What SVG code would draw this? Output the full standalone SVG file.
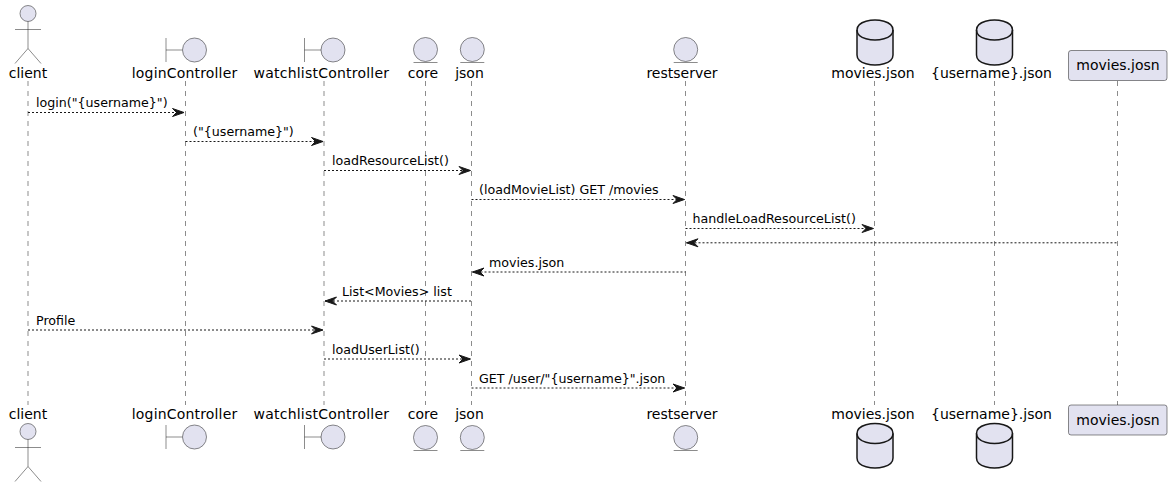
<svg xmlns="http://www.w3.org/2000/svg" width="1172" height="486" viewBox="0 0 1172 486">
  <style>
    .bg { fill: #FFFFFF; }
    .shape { fill: #E2E2F0; stroke: #181818; stroke-width: 0.5; }
    .db { fill: #E2E2F0; stroke: #181818; stroke-width: 1.5; }
    .dbrim { fill: none; stroke: #181818; stroke-width: 1.5; }
    .stick { fill: none; stroke: #181818; stroke-width: 0.5; }
    .life { fill: none; stroke: #181818; stroke-width: 0.5; stroke-dasharray: 5,5; }
    .name { font-family: "DejaVu Sans", "Liberation Sans", sans-serif; font-size: 14px; fill: #000000; text-anchor: middle; }
    .msg { fill: none; stroke: #181818; stroke-width: 1; stroke-dasharray: 2,2; }
    .head { fill: #181818; stroke: #181818; stroke-width: 1; }
    .label { font-family: "DejaVu Sans", "Liberation Sans", sans-serif; font-size: 12.65px; fill: #000000; }
  </style>
  <rect class="bg" x="0" y="0" width="1172" height="486"/>

  <!-- lifelines -->
  <g id="lifelines">
    <line class="life" x1="28" y1="81" x2="28" y2="405"/>
    <line class="life" x1="185.5" y1="81" x2="185.5" y2="405"/>
    <line class="life" x1="324" y1="81" x2="324" y2="405"/>
    <line class="life" x1="425.5" y1="81" x2="425.5" y2="405"/>
    <line class="life" x1="471.5" y1="81" x2="471.5" y2="405"/>
    <line class="life" x1="685.5" y1="81" x2="685.5" y2="405"/>
    <line class="life" x1="874.5" y1="81" x2="874.5" y2="405"/>
    <line class="life" x1="994.5" y1="81" x2="994.5" y2="405"/>
    <line class="life" x1="1117.5" y1="81" x2="1117.5" y2="405"/>
  </g>

  <!-- actor: client -->
  <g id="client">
    <circle class="shape" cx="28" cy="13.5" r="8"/>
    <path class="stick" d="M28,21.5 L28,48.5 M15,29.5 L41,29.5 M28,48.5 L15,63.5 M28,48.5 L41,63.5"/>
    <text class="name" x="28" y="78">client</text>
    <text class="name" x="28" y="419">client</text>
    <circle class="shape" cx="28" cy="431.5" r="8"/>
    <path class="stick" d="M28,439.5 L28,466.5 M15,447.5 L41,447.5 M28,466.5 L15,481.5 M28,466.5 L41,481.5"/>
  </g>

  <!-- boundary: loginController -->
  <g id="loginController">
    <path class="stick" d="M166,38 L166,62 M166,50 L182.5,50"/>
    <circle class="shape" cx="194.5" cy="50" r="12"/>
    <text class="name" x="184.5" y="78" textLength="105.5" lengthAdjust="spacing">loginController</text>
    <text class="name" x="184.5" y="419" textLength="105.5" lengthAdjust="spacing">loginController</text>
    <path class="stick" d="M166,425 L166,449 M166,437 L182.5,437"/>
    <circle class="shape" cx="194.5" cy="437" r="12"/>
  </g>

  <!-- boundary: watchlistController -->
  <g id="watchlistController">
    <path class="stick" d="M304.5,38 L304.5,62 M304.5,50 L321,50"/>
    <circle class="shape" cx="333" cy="50" r="12"/>
    <text class="name" x="321.3" y="78" textLength="135.5" lengthAdjust="spacing">watchlistController</text>
    <text class="name" x="321.3" y="419" textLength="135.5" lengthAdjust="spacing">watchlistController</text>
    <path class="stick" d="M304.5,425 L304.5,449 M304.5,437 L321,437"/>
    <circle class="shape" cx="333" cy="437" r="12"/>
  </g>

  <!-- entity: core -->
  <g id="core">
    <circle class="shape" cx="425.5" cy="49.5" r="12"/>
    <line class="stick" x1="413.5" y1="62.5" x2="437.5" y2="62.5"/>
    <text class="name" x="423" y="78">core</text>
    <text class="name" x="423" y="419">core</text>
    <circle class="shape" cx="425.5" cy="437.5" r="12"/>
    <line class="stick" x1="413.5" y1="450.5" x2="437.5" y2="450.5"/>
  </g>

  <!-- entity: json -->
  <g id="json">
    <circle class="shape" cx="472.3" cy="49.5" r="12"/>
    <line class="stick" x1="460.3" y1="62.5" x2="484.3" y2="62.5"/>
    <text class="name" x="469.5" y="78">json</text>
    <text class="name" x="469.5" y="419">json</text>
    <circle class="shape" cx="472.3" cy="437.5" r="12"/>
    <line class="stick" x1="460.3" y1="450.5" x2="484.3" y2="450.5"/>
  </g>

  <!-- entity: restserver -->
  <g id="restserver">
    <circle class="shape" cx="685.7" cy="49.5" r="12"/>
    <line class="stick" x1="673.7" y1="62.5" x2="697.7" y2="62.5"/>
    <text class="name" x="682" y="78">restserver</text>
    <text class="name" x="682" y="419">restserver</text>
    <circle class="shape" cx="685.7" cy="437.5" r="12"/>
    <line class="stick" x1="673.7" y1="450.5" x2="697.7" y2="450.5"/>
  </g>

  <!-- database: movies.json -->
  <g id="moviesJson">
    <path class="db" d="M857,30 C857,20 875,20 875,20 C875,20 893,20 893,30 L893,55 C893,65 875,65 875,65 C875,65 857,65 857,55 Z"/>
    <path class="dbrim" d="M857,30 C857,40 875,40 875,40 C875,40 893,40 893,30"/>
    <text class="name" x="873" y="78">movies.json</text>
    <text class="name" x="873" y="419">movies.json</text>
    <path class="db" d="M857,433.5 C857,423.5 875,423.5 875,423.5 C875,423.5 893,423.5 893,433.5 L893,458 C893,468 875,468 875,468 C875,468 857,468 857,458 Z"/>
    <path class="dbrim" d="M857,433.5 C857,443.5 875,443.5 875,443.5 C875,443.5 893,443.5 893,433.5"/>
  </g>

  <!-- database: {username}.json -->
  <g id="usernameJson">
    <path class="db" d="M976.5,30 C976.5,20 994.5,20 994.5,20 C994.5,20 1012.5,20 1012.5,30 L1012.5,55 C1012.5,65 994.5,65 994.5,65 C994.5,65 976.5,65 976.5,55 Z"/>
    <path class="dbrim" d="M976.5,30 C976.5,40 994.5,40 994.5,40 C994.5,40 1012.5,40 1012.5,30"/>
    <text class="name" x="991.5" y="78">{username}.json</text>
    <text class="name" x="991.5" y="419">{username}.json</text>
    <path class="db" d="M976.5,433.5 C976.5,423.5 994.5,423.5 994.5,423.5 C994.5,423.5 1012.5,423.5 1012.5,433.5 L1012.5,458 C1012.5,468 994.5,468 994.5,468 C994.5,468 976.5,468 976.5,458 Z"/>
    <path class="dbrim" d="M976.5,433.5 C976.5,443.5 994.5,443.5 994.5,443.5 C994.5,443.5 1012.5,443.5 1012.5,433.5"/>
  </g>

  <!-- participant: movies.josn -->
  <g id="moviesJosn">
    <rect class="shape" x="1068.5" y="50.5" width="98.5" height="30" rx="2.5" ry="2.5"/>
    <text class="name" x="1118" y="70">movies.josn</text>
    <rect class="shape" x="1068.5" y="405" width="98.5" height="30" rx="2.5" ry="2.5"/>
    <text class="name" x="1118" y="425">movies.josn</text>
  </g>

  <!-- messages -->
  <g id="connectors">
    <line class="msg" x1="28" y1="112.5" x2="184" y2="112.5"/>
    <polygon class="head" points="172.5,108.5 184,112.5 172.5,116.5 176.5,112.5"/>
    <text class="label" x="36" y="107">login("{username}")</text>

    <line class="msg" x1="185.5" y1="141.5" x2="323" y2="141.5"/>
    <polygon class="head" points="311.5,137.5 323,141.5 311.5,145.5 315.5,141.5"/>
    <text class="label" x="193" y="136">("{username}")</text>

    <line class="msg" x1="324" y1="170.5" x2="470.5" y2="170.5"/>
    <polygon class="head" points="459,166.5 470.5,170.5 459,174.5 463,170.5"/>
    <text class="label" x="332" y="165">loadResourceList()</text>

    <line class="msg" x1="471.5" y1="199.5" x2="684.5" y2="199.5"/>
    <polygon class="head" points="673,195.5 684.5,199.5 673,203.5 677,199.5"/>
    <text class="label" x="479" y="194">(loadMovieList) GET /movies</text>

    <line class="msg" x1="685.5" y1="228.5" x2="873.5" y2="228.5"/>
    <polygon class="head" points="862,224.5 873.5,228.5 862,232.5 866,228.5"/>
    <text class="label" x="692.5" y="223">handleLoadResourceList()</text>

    <line class="msg" x1="686.5" y1="242.8" x2="1117.5" y2="242.8"/>
    <polygon class="head" points="698,238.8 686.5,242.8 698,246.8 694,242.8"/>

    <line class="msg" x1="472.5" y1="272" x2="685.5" y2="272"/>
    <polygon class="head" points="484,268 472.5,272 484,276 480,272"/>
    <text class="label" x="489" y="266.5">movies.json</text>

    <line class="msg" x1="325" y1="301" x2="471.5" y2="301"/>
    <polygon class="head" points="336.5,297 325,301 336.5,305 332.5,301"/>
    <text class="label" x="342" y="295.5">List&lt;Movies&gt; list</text>

    <line class="msg" x1="28" y1="330" x2="323" y2="330"/>
    <polygon class="head" points="311.5,326 323,330 311.5,334 315.5,330"/>
    <text class="label" x="36" y="324.5">Profile</text>

    <line class="msg" x1="324" y1="359" x2="470.5" y2="359"/>
    <polygon class="head" points="459,355 470.5,359 459,363 463,359"/>
    <text class="label" x="332" y="353.5">loadUserList()</text>

    <line class="msg" x1="471.5" y1="388" x2="684.5" y2="388"/>
    <polygon class="head" points="673,384 684.5,388 673,392 677,388"/>
    <text class="label" x="479" y="382.5">GET /user/"{username}".json</text>
  </g>
</svg>
